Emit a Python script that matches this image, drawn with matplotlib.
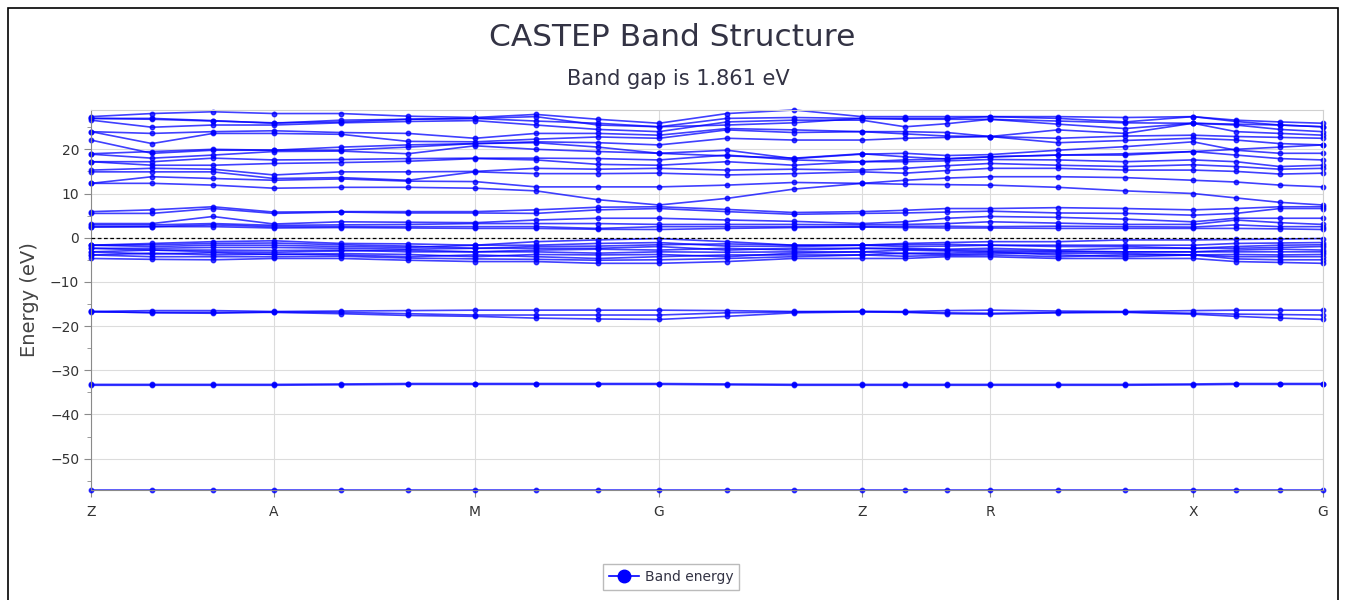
import numpy as np
import matplotlib.pyplot as plt
from matplotlib.lines import Line2D
from matplotlib.patches import Rectangle

# k-path (sampled), high symmetry points
k_path = [0.000, 0.061, 0.122, 0.183, 0.250, 0.317, 0.384, 0.445, 0.507, 0.568, 0.636,
          0.703, 0.771, 0.814, 0.856, 0.899, 0.967, 1.034, 1.102, 1.145, 1.189, 1.232]
tick_pos = [0.000, 0.183, 0.384, 0.568, 0.771, 0.899, 1.102, 1.232]
tick_labels = ["Z", "A", "M", "G", "Z", "R", "X", "G"]

# deep core levels
core_bands = [
    [-57.0] * 22,
    [-33.2, -33.2, -33.2, -33.2, -33.1, -33.0, -33.0, -33.0, -33.0, -33.0, -33.1,
     -33.2, -33.2, -33.2, -33.2, -33.2, -33.2, -33.2, -33.1, -33.0, -33.0, -33.0],
    [-33.4, -33.4, -33.4, -33.4, -33.3, -33.2, -33.2, -33.2, -33.2, -33.2, -33.3,
     -33.4, -33.4, -33.4, -33.4, -33.4, -33.4, -33.4, -33.3, -33.2, -33.2, -33.2],
]

# semicore bands around -17 eV
semicore_bands = [
    [-16.7, -16.5, -16.5, -16.7, -16.6, -16.5, -16.4, -16.4, -16.4, -16.4, -16.5,
     -16.7, -16.7, -16.7, -16.5, -16.4, -16.6, -16.7, -16.5, -16.4, -16.4, -16.4],
    [-16.7, -17.0, -17.1, -16.8, -16.9, -17.2, -17.5, -17.5, -17.5, -17.5, -17.0,
     -16.8, -16.7, -16.8, -17.0, -17.1, -16.9, -16.8, -17.1, -17.3, -17.4, -17.5],
    [-16.8, -16.9, -16.9, -16.9, -17.2, -17.6, -17.8, -18.2, -18.4, -18.5, -17.8,
     -17.0, -16.8, -16.9, -17.2, -17.3, -17.0, -16.9, -17.3, -17.8, -18.2, -18.5],
]

# valence bands
valence_bands = [
    [-1.7, -1.3, -0.9, -0.7, -1.3, -1.4, -1.7, -0.9, -0.5, -0.2, -0.9,
     -1.7, -1.7, -1.3, -1.1, -0.9, -0.9, -0.5, -0.5, -0.4, -0.3, -0.2],
    [-1.7, -1.6, -1.3, -1.2, -1.6, -1.9, -2.4, -2.0, -1.9, -1.6, -1.4,
     -1.7, -1.7, -1.6, -1.5, -1.7, -2.0, -2.0, -2.4, -2.0, -1.7, -1.6],
    [-1.7, -2.0, -1.7, -1.7, -2.0, -2.2, -1.7, -1.7, -1.3, -1.1, -1.9,
     -2.0, -1.7, -2.0, -1.9, -1.7, -1.7, -1.7, -1.7, -1.3, -1.2, -1.1],
    [-2.4, -2.4, -2.2, -2.2, -2.4, -2.6, -2.4, -2.4, -2.4, -2.0, -2.8,
     -2.4, -2.4, -2.4, -2.6, -2.4, -2.8, -2.4, -2.4, -2.4, -2.2, -2.0],
    [-2.4, -2.8, -3.2, -3.3, -3.0, -2.8, -3.2, -2.8, -2.6, -2.8, -2.4,
     -2.8, -2.4, -2.6, -2.8, -2.8, -3.0, -3.2, -3.2, -2.8, -2.6, -2.8],
    [-3.2, -2.8, -2.8, -2.9, -2.8, -3.2, -3.2, -3.2, -3.5, -3.2, -3.3,
     -3.2, -3.2, -2.8, -3.0, -3.2, -3.2, -3.2, -3.2, -3.2, -3.2, -3.2],
    [-3.2, -3.7, -3.4, -3.8, -3.6, -3.8, -4.3, -3.8, -3.9, -3.8, -4.3,
     -3.5, -3.2, -3.6, -3.8, -3.6, -3.5, -3.6, -3.9, -3.8, -3.9, -3.8],
    [-3.9, -3.5, -3.9, -3.7, -3.9, -4.3, -3.9, -4.3, -4.7, -4.3, -3.9,
     -3.9, -3.9, -3.5, -3.5, -3.2, -3.9, -4.3, -3.9, -4.3, -4.3, -4.3],
    [-3.9, -4.3, -4.3, -4.3, -4.2, -4.6, -4.8, -4.9, -5.1, -5.0, -4.7,
     -4.3, -3.9, -4.2, -4.0, -3.9, -4.3, -3.9, -3.9, -4.8, -5.0, -5.0],
    [-4.7, -4.9, -5.0, -4.7, -4.7, -5.1, -5.4, -5.4, -5.8, -5.8, -5.4,
     -4.7, -4.7, -4.7, -4.3, -4.3, -4.7, -4.7, -4.7, -5.4, -5.6, -5.8],
]

# lower conduction bands (2 - 7 eV)
conduction_low = [
    [2.4, 2.5, 2.5, 2.2, 2.3, 2.2, 2.1, 2.1, 1.9, 1.86, 2.1, 2.3, 2.4, 2.3, 2.2, 2.2, 2.1, 2.1, 2.1, 2.1, 2.0, 1.86],
    [2.5, 2.5, 2.9, 2.5, 2.5, 2.5, 2.5, 2.5, 2.1, 2.5, 2.5, 2.5, 2.5, 2.6, 2.6, 2.5, 2.6, 2.5, 2.4, 2.9, 2.5, 2.5],
    [2.9, 2.9, 3.2, 2.8, 2.9, 3.0, 3.2, 3.2, 3.2, 3.0, 3.0, 3.0, 2.9, 3.0, 3.2, 3.6, 3.3, 3.0, 3.0, 4.0, 3.4, 3.0],
    [3.2, 3.2, 4.8, 3.1, 3.6, 3.5, 3.4, 4.0, 4.4, 4.4, 4.0, 3.7, 3.2, 3.6, 4.4, 4.8, 4.6, 4.2, 3.6, 4.4, 4.4, 4.4],
    [5.5, 5.5, 6.6, 5.5, 5.8, 5.6, 5.6, 5.5, 6.3, 6.6, 5.9, 5.3, 5.5, 5.6, 5.8, 6.0, 5.6, 5.5, 5.1, 5.5, 6.6, 6.6],
    [5.9, 6.3, 7.0, 5.8, 5.9, 5.9, 5.9, 6.3, 6.9, 7.0, 6.4, 5.7, 5.9, 6.2, 6.6, 6.6, 6.8, 6.6, 6.3, 6.6, 7.0, 7.0],
]

# upper conduction bands (7 - 29 eV)
conduction_high = [
    [12.3, 12.3, 11.9, 11.2, 11.4, 11.4, 11.2, 10.6, 8.6, 7.4, 8.9, 11.0, 12.3, 12.1, 12.0, 11.9, 11.4, 10.6, 10.0, 9.0, 8.0, 7.4],
    [12.3, 13.8, 13.4, 13.0, 13.3, 12.8, 12.7, 11.5, 11.5, 11.5, 11.9, 12.5, 12.3, 13.0, 13.5, 13.8, 13.8, 13.6, 13.0, 12.6, 11.9, 11.5],
    [14.9, 14.9, 14.9, 13.4, 13.6, 13.0, 14.9, 14.5, 14.5, 14.6, 14.2, 14.5, 14.9, 14.6, 15.2, 15.7, 15.7, 15.3, 15.3, 15.0, 14.4, 14.6],
    [15.3, 15.7, 15.5, 14.2, 14.9, 14.9, 15.0, 15.7, 15.5, 15.7, 15.3, 15.5, 15.3, 15.7, 16.3, 16.8, 16.4, 16.1, 16.5, 16.1, 15.5, 15.7],
    [17.2, 16.4, 16.4, 16.8, 17.0, 17.3, 17.9, 17.6, 16.6, 16.4, 17.2, 16.4, 17.2, 17.2, 17.4, 17.7, 17.6, 17.2, 17.6, 17.2, 16.1, 16.4],
    [17.2, 17.2, 18.0, 17.6, 17.7, 17.9, 18.0, 18.0, 17.9, 17.6, 18.7, 17.6, 17.2, 17.6, 17.9, 18.3, 18.7, 18.7, 19.5, 18.7, 17.9, 17.6],
    [18.9, 18.0, 18.7, 19.5, 19.6, 19.0, 20.8, 20.0, 19.5, 19.1, 19.8, 17.9, 18.9, 19.1, 18.6, 18.8, 19.8, 20.6, 21.7, 19.8, 19.1, 19.1],
    [19.0, 19.5, 20.0, 19.8, 20.5, 21.0, 21.3, 21.5, 20.5, 19.1, 18.5, 18.0, 19.0, 18.3, 17.8, 18.3, 18.7, 19.0, 19.5, 20.0, 20.5, 21.0],
    [22.1, 19.1, 19.8, 19.8, 19.8, 20.5, 21.3, 21.7, 21.5, 21.0, 22.5, 22.1, 22.1, 22.5, 22.7, 22.9, 21.5, 22.0, 22.5, 22.1, 21.3, 21.0],
    [24.0, 21.3, 23.6, 23.6, 23.4, 21.8, 21.7, 22.3, 22.8, 22.5, 24.4, 23.8, 24.0, 23.5, 23.0, 22.9, 22.5, 23.0, 23.2, 22.9, 22.7, 22.5],
    [24.0, 23.6, 24.0, 24.2, 23.8, 23.6, 22.5, 23.6, 23.6, 23.2, 24.7, 24.4, 24.0, 24.0, 23.8, 22.9, 24.4, 23.6, 25.9, 24.0, 23.6, 23.2],
    [26.6, 25.0, 25.5, 25.5, 26.0, 26.3, 26.5, 25.5, 24.5, 24.0, 26.2, 26.6, 26.6, 25.1, 25.8, 26.8, 25.7, 24.7, 25.9, 25.5, 24.5, 24.0],
    [27.0, 26.8, 26.4, 26.0, 26.2, 26.8, 27.0, 26.4, 25.9, 25.1, 25.5, 26.0, 27.0, 26.8, 26.8, 26.8, 26.4, 26.0, 25.9, 25.7, 25.5, 25.1],
    [27.0, 27.0, 26.5, 25.9, 26.6, 26.8, 27.0, 27.4, 25.5, 25.1, 27.0, 27.2, 27.0, 27.0, 27.0, 27.4, 27.0, 26.2, 27.4, 26.3, 25.5, 25.1],
    [27.4, 28.1, 28.5, 28.1, 28.1, 27.5, 27.2, 27.9, 26.8, 25.9, 28.1, 28.9, 27.4, 27.4, 27.4, 27.4, 27.4, 27.2, 27.4, 26.6, 26.2, 25.9],
]

all_bands = core_bands + semicore_bands + valence_bands + conduction_low + conduction_high

fig = plt.figure(figsize=(13.47, 6.0), dpi=100)
ax = fig.add_axes([91 / 1347, 1 - 490 / 600, (1323 - 91) / 1347, (490 - 110) / 600])

for band in all_bands:
    ax.plot(k_path, band, color="#0000ff", lw=1.2, alpha=0.75,
            marker="o", ms=3.2, mfc="#0000ff", mec="#0000ff", clip_on=False)

ax.axhline(0, color="black", lw=0.9, ls=(0, (3, 2)), zorder=5)

ax.set_xlim(0, 1.232)
ax.set_ylim(-57.1, 28.9)
ax.set_xticks(tick_pos)
ax.set_xticklabels(tick_labels)
ax.set_yticks(np.arange(-50, 21, 10))
ax.set_yticks(np.arange(-55, 26, 5), minor=True)
ax.grid(True, which="major", color="#dcdcdc", lw=0.8)
ax.set_axisbelow(True)

for side in ["top", "right"]:
    ax.spines[side].set_color("#d0d0d0")
for side in ["left", "bottom"]:
    ax.spines[side].set_color("#8a8a8a")
ax.tick_params(axis="both", colors="#8a8a8a", labelcolor="#333333", labelsize=10, length=5)
ax.tick_params(axis="y", which="minor", colors="#8a8a8a", length=3)
ax.tick_params(axis="x", pad=6)

ax.set_ylabel("Energy (eV)", fontsize=14, color="#444444", labelpad=8)

fig.text(672 / 1347, 1 - 37 / 600, "CASTEP Band Structure", ha="center", va="center",
         fontsize=22.5, color="#333344")
fig.text(678 / 1347, 1 - 79 / 600, "Band gap is 1.861 eV", ha="center", va="center",
         fontsize=15, color="#333344")

handle = Line2D([], [], color="#0000ff", lw=1.2, marker="o", ms=9)
leg = fig.legend([handle], ["Band energy"], loc="center",
                 bbox_to_anchor=(671 / 1347, 1 - 577 / 600), fontsize=10,
                 fancybox=False, edgecolor="#aaaaaa", handlelength=2.2,
                 borderpad=0.4, handletextpad=0.4)
leg.get_frame().set_linewidth(1.0)
for t in leg.get_texts():
    t.set_color("#333344")

fig.add_artist(Rectangle((8 / 1347, -0.1), (1338 - 8) / 1347, 1.1 - 8 / 600,
                         transform=fig.transFigure, fill=False, ec="black", lw=1.2))

fig.savefig("out.png", dpi=100)
